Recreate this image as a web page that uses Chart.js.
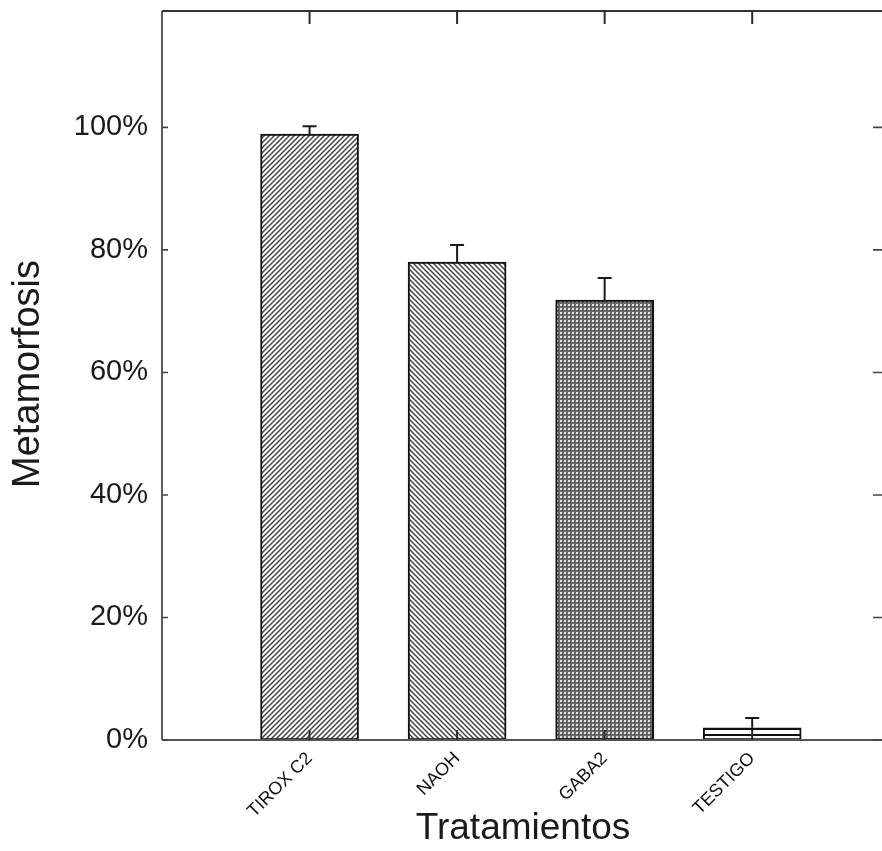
<!DOCTYPE html>
<html>
<head>
<meta charset="utf-8">
<script src="https://cdn.jsdelivr.net/npm/chart.js@4.4.1/dist/chart.umd.min.js"></script>
<style>
    html, body { margin: 0; padding: 0; background: #fff; overflow: hidden; }
    #wrap { width: 890px; height: 851px; }
</style>
</head>
<body>
<div id="wrap"><canvas id="chart" width="890" height="851"></canvas></div>
<script>
const categories = ['TIROX C2', 'NAOH', 'GABA2', 'TESTIGO'];
const metamorfosis = [98.9, 78.0, 71.8, 2.0];
const errores = [1.3, 2.8, 3.6, 1.6];
const yTicks = [0, 20, 40, 60, 80, 100];

const FONT = '"Liberation Sans", Arial, sans-serif';

// small tiles used as bar fills
function makePattern(kind) {
    const c = document.createElement('canvas');
    const ctx = c.getContext('2d');
    if (kind === 'slash' || kind === 'back') {
        const s = 5;
        c.width = c.height = s;
        ctx.fillStyle = '#fff';
        ctx.fillRect(0, 0, s, s);
        ctx.strokeStyle = '#444';
        ctx.lineWidth = 1.5;
        ctx.beginPath();
        if (kind === 'slash') {
            ctx.moveTo(-1, s + 1); ctx.lineTo(s + 1, -1);
            ctx.moveTo(-1, 1); ctx.lineTo(1, -1);
            ctx.moveTo(s - 1, s + 1); ctx.lineTo(s + 1, s - 1);
        } else {
            ctx.moveTo(-1, -1); ctx.lineTo(s + 1, s + 1);
            ctx.moveTo(s - 1, -1); ctx.lineTo(s + 1, 1);
            ctx.moveTo(-1, s - 1); ctx.lineTo(1, s + 1);
        }
        ctx.stroke();
    } else if (kind === 'check') {
        c.width = c.height = 4;
        ctx.fillStyle = '#6a6a6a';
        ctx.fillRect(0, 0, 4, 4);
        ctx.fillStyle = '#e2e2e2';
        ctx.fillRect(0, 0, 2, 2);
        ctx.fillStyle = '#333';
        ctx.fillRect(2, 2, 1, 1);
    } else {
        c.width = 1; c.height = 6;
        ctx.fillStyle = '#fff';
        ctx.fillRect(0, 0, 1, 6);
        ctx.fillStyle = '#111';
        ctx.fillRect(0, 2, 1, 2);
    }
    return ctx.createPattern(c, 'repeat');
}

const fills = [makePattern('slash'), makePattern('back'), makePattern('check'), makePattern('lines')];

// box, inward ticks, error bars and axis titles
const framePlugin = {
    id: 'frame',
    afterDatasetsDraw(chart) {
        const { ctx, chartArea: a, scales: { x, y } } = chart;
        const W = chart.width;
        ctx.save();

        // error bars
        ctx.strokeStyle = '#1a1a1a';
        ctx.lineWidth = 2;
        categories.forEach((c, i) => {
            const px = x.getPixelForValue(i + 1);
            const top = y.getPixelForValue(metamorfosis[i]);
            const hi = y.getPixelForValue(metamorfosis[i] + errores[i]);
            ctx.beginPath();
            ctx.moveTo(px, top); ctx.lineTo(px, hi);
            ctx.moveTo(px - 7, hi); ctx.lineTo(px + 7, hi);
            ctx.stroke();
        });

        // left and top lines
        ctx.strokeStyle = '#333';
        ctx.lineWidth = 1.6;
        ctx.beginPath();
        ctx.moveTo(a.left, a.top); ctx.lineTo(a.left, a.bottom);
        ctx.stroke();
        ctx.lineWidth = 2.2;
        ctx.beginPath();
        ctx.moveTo(a.left, a.top); ctx.lineTo(W, a.top);
        ctx.stroke();

        // baseline
        ctx.strokeStyle = '#555';
        ctx.lineWidth = 2;
        ctx.beginPath();
        ctx.moveTo(a.left, a.bottom); ctx.lineTo(W, a.bottom);
        ctx.stroke();

        // category ticks, top and bottom
        ctx.strokeStyle = '#2a2a2a';
        ctx.lineWidth = 2;
        categories.forEach((c, i) => {
            const px = x.getPixelForValue(i + 1);
            ctx.beginPath();
            ctx.moveTo(px, a.top); ctx.lineTo(px, a.top + 13);
            ctx.moveTo(px, a.bottom); ctx.lineTo(px, a.bottom - 10);
            ctx.stroke();
        });

        // value ticks, left and right
        ctx.strokeStyle = '#444';
        ctx.lineWidth = 1.6;
        yTicks.forEach(v => {
            const py = y.getPixelForValue(v);
            ctx.beginPath();
            ctx.moveTo(a.left, py); ctx.lineTo(a.left + 6, py);
            ctx.moveTo(a.right, py); ctx.lineTo(a.right - 12, py);
            ctx.stroke();
        });

        // axis titles
        ctx.fillStyle = '#1a1a1a';
        ctx.textAlign = 'center';
        ctx.textBaseline = 'middle';
        ctx.font = '37px ' + FONT;
        ctx.fillText('Tratamientos', 523, 829);
        ctx.font = '38px ' + FONT;
        ctx.translate(29, 374);
        ctx.rotate(-Math.PI / 2);
        ctx.fillText('Metamorfosis', 0, 0);

        ctx.restore();
    }
};

new Chart(document.getElementById('chart'), {
    type: 'bar',
    data: {
        datasets: [{
            data: categories.map((c, i) => ({ x: i + 1, y: metamorfosis[i] })),
            backgroundColor: fills,
            borderColor: '#111',
            borderWidth: 2,
            borderSkipped: false,
            barThickness: 98
        }]
    },
    options: {
        responsive: false,
        animation: false,
        devicePixelRatio: 1,
        layout: { padding: { top: 11, right: 5, left: 0, bottom: 0 } },
        plugins: { legend: { display: false }, tooltip: { enabled: false } },
        scales: {
            x: {
                type: 'linear',
                offset: false,
                min: 0,
                max: 4.9,
                grid: { display: false, offset: false },
                border: { display: false },
                ticks: {
                    stepSize: 1,
                    includeBounds: false,
                    autoSkip: false,
                    minRotation: 45,
                    maxRotation: 45,
                    padding: 0,
                    color: '#111',
                    font: { family: FONT, size: 18 },
                    callback: v => categories[v - 1] || ''
                },
                afterFit: s => {
                    s.height = 111;
                    s.paddingLeft = 0;
                    s.paddingRight = 0;
                }
            },
            y: {
                min: 0,
                max: 119,
                grid: { display: false },
                border: { display: false },
                ticks: {
                    stepSize: 20,
                    includeBounds: false,
                    padding: 6,
                    color: '#1a1a1a',
                    font: { family: FONT, size: 29 },
                    callback: v => v + '%'
                },
                afterFit: s => {
                    s.width = 162;
                    s.paddingTop = 0;
                    s.paddingBottom = 0;
                }
            }
        }
    },
    plugins: [framePlugin]
});
</script>
</body>
</html>
